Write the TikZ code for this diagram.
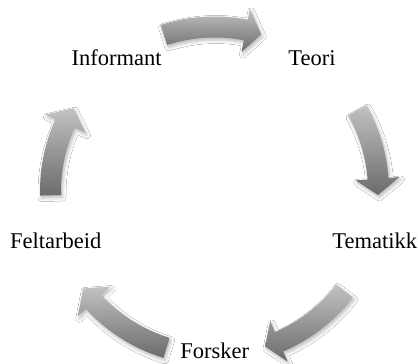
\documentclass[tikz,border=0pt]{standalone}
\usepackage{fontspec}
\setmainfont{Liberation Serif}
\usetikzlibrary{shadows.blur}

% curved block arrow on the cycle: tail angle, head base angle, tip angle
\newcommand\cyclearrow[3]{%
  \path[cyclearrowstyle]
    (#1:174.5pt) arc[start angle=#1, end angle=#2, radius=174.5pt]
    -- (#2:185.5pt) -- (#3:163.5pt) -- (#2:141.5pt)
    -- (#2:153.5pt) arc[start angle=#2, end angle=#1, radius=153.5pt]
    -- cycle;}

\begin{document}
\begin{tikzpicture}[x=1pt, y=1pt,
  lbl/.style={anchor=base, inner sep=0pt, text=black,
    font=\fontsize{22.5pt}{27pt}\selectfont},
  cyclearrowstyle/.style={top color=black!24, bottom color=black!58,
    blur shadow={shadow xshift=1.5pt, shadow yshift=-2.5pt,
      shadow blur radius=3.5pt, shadow opacity=28}}]
  \useasboundingbox[fill=white] (0,0) rectangle (418,364);

  % stages of the cycle
  \node[lbl] (informant) at (116.7,298) {Informant};
  \node[lbl] (teori)     at (312.0,298) {Teori};
  \node[lbl] (tematikk)  at (374.8,115) {Tematikk};
  \node[lbl] (forsker)   at (214.7,5.2) {Forsker};
  \node[lbl] (feltarbeid) at (55.8,115) {Feltarbeid};

  % clockwise arrows between the stages
  \begin{scope}[shift={(214.5,173)}]
    \coordinate (hub) at (0,0);
    \cyclearrow{108}{79}{73.4}
    \cyclearrow{29.5}{4.3}{-1.4}
    \cyclearrow{-37.5}{-66.8}{-72}
    \cyclearrow{-107}{-137.5}{-143.4}
    \cyclearrow{181.5}{155.7}{149.6}
  \end{scope}
\end{tikzpicture}
\end{document}
